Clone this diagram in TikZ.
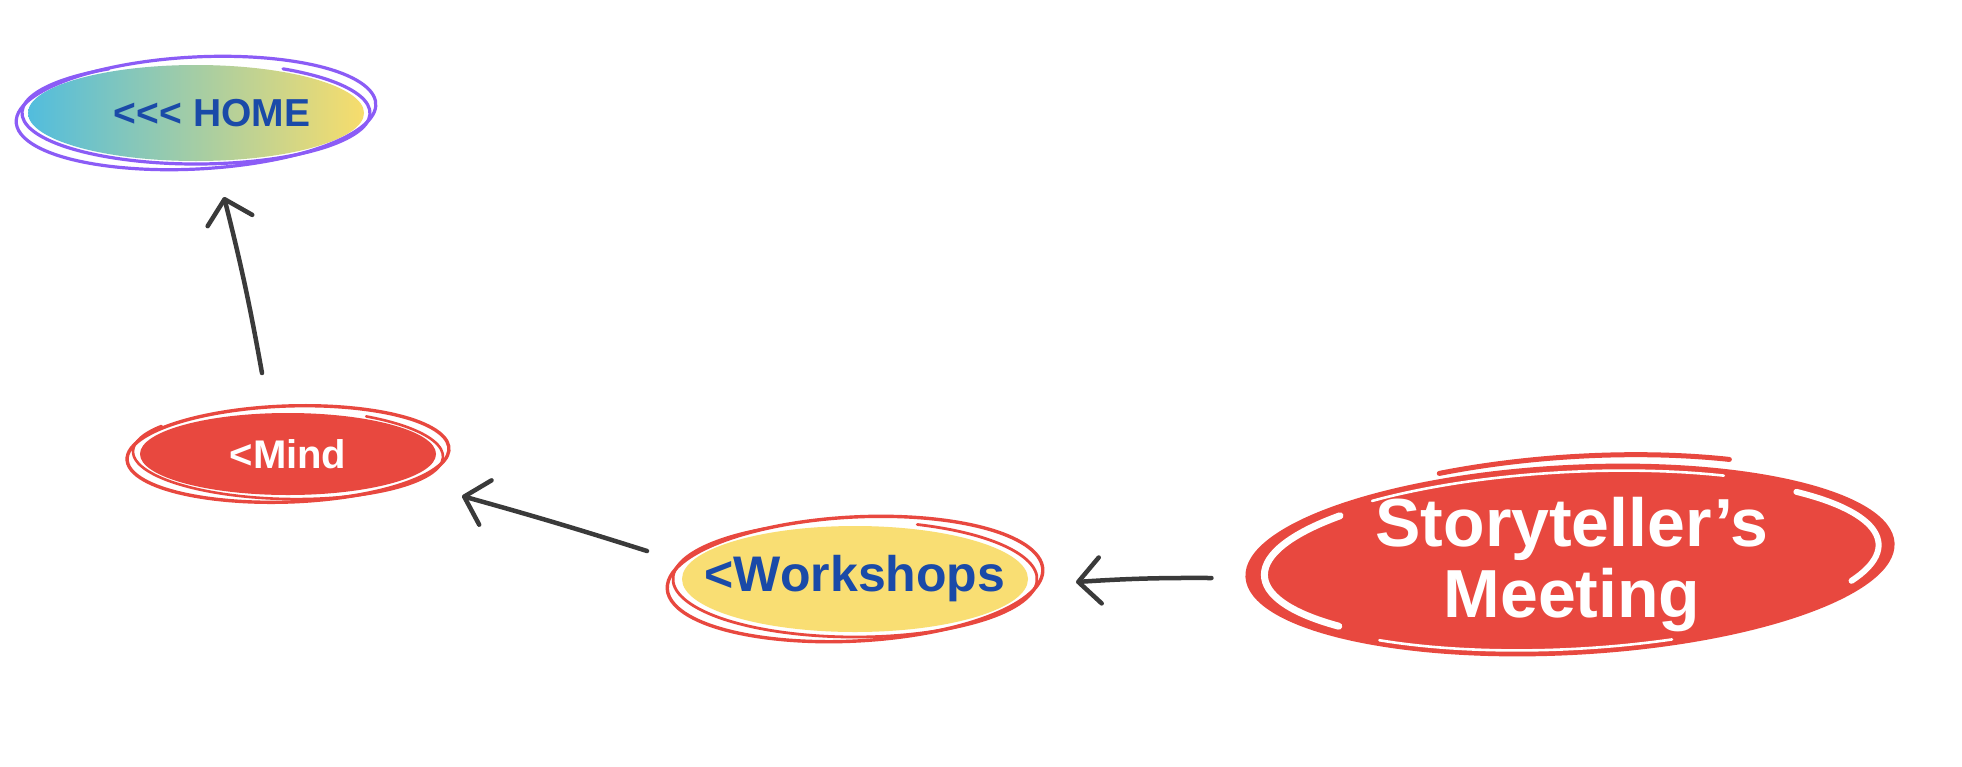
\documentclass[tikz,border=0pt]{standalone}
\usepackage{fontspec}
\newfontfamily\lsans{Liberation Sans}
\usetikzlibrary{arrows.meta,shapes.geometric,calc}
\definecolor{redA}{HTML}{E8483F}
\definecolor{purpA}{HTML}{8B5CF6}
\definecolor{blueT}{HTML}{1A4AA8}
\definecolor{yelA}{HTML}{F9DE73}
\definecolor{homeL}{HTML}{52BDDD}
\definecolor{homeR}{HTML}{F7DD6C}
\definecolor{arrC}{HTML}{3A3A3A}
\begin{document}
\begin{tikzpicture}[x=1pt,y=-1pt,
  oval/.style={ellipse, inner sep=0pt, outer sep=0pt, draw=none},
  homelbl/.style={font=\lsans\bfseries\fontsize{39}{41}\selectfont, text=blueT},
  mindlbl/.style={font=\lsans\bfseries\fontsize{40}{42}\selectfont, text=white},
  worklbl/.style={font=\lsans\bfseries\fontsize{50}{52}\selectfont, text=blueT},
  storylbl/.style={font=\lsans\bfseries\fontsize{68}{71}\selectfont, text=white, align=center},
  pstroke/.style={draw=purpA, line width=3.2pt, line cap=round},
  rstroke/.style={draw=redA, line width=3.4pt, line cap=round},
  wstroke/.style={draw=white, line cap=round},
  arr/.style={draw=arrC, line width=4.5pt, line cap=round,
    -{Straight Barb[length=22pt, width=46pt, round]}}
]
\fill[white] (0,0) rectangle (1962,766);
\useasboundingbox (0,0) rectangle (1962,766);

% ---- HOME ----
\node[oval, minimum width=336pt, minimum height=96pt, left color=homeL, right color=homeR,
  label={[homelbl, xshift=16pt]center:{<<< HOME}}] (home) at (196,113) {};
\draw[pstroke, shift={(home.center)}, rotate=3]
  (250:180 and 56) arc[start angle=250, end angle=630, x radius=180, y radius=56];
\draw[pstroke, shift={(home.center)}, rotate=0]
  (300:174 and 51) arc[start angle=300, end angle=600, x radius=174, y radius=51];

% ---- Mind ----
\node[oval, minimum width=296pt, minimum height=82pt, fill=redA,
  label={[mindlbl]center:{<Mind}}] (mind) at (288,454) {};
\draw[rstroke, shift={(mind.center)}, rotate=2]
  (250:161 and 48) arc[start angle=250, end angle=615, x radius=161, y radius=48];
\draw[rstroke, line width=2.6pt, shift={(mind.center)}, rotate=-1]
  (300:155 and 45) arc[start angle=300, end angle=575, x radius=155, y radius=45];

% ---- Workshops ----
\node[oval, minimum width=346pt, minimum height=106pt, fill=yelA,
  label={[worklbl]center:{<Workshops}}] (work) at (855,579) {};
\draw[rstroke, shift={(work.center)}, rotate=3]
  (255:188 and 62) arc[start angle=255, end angle=620, x radius=188, y radius=62];
\draw[rstroke, line width=2.8pt, shift={(work.center)}, rotate=0]
  (290:182 and 58) arc[start angle=290, end angle=600, x radius=182, y radius=58];

% ---- Storyteller's Meeting ----
\node[oval, minimum width=650pt, minimum height=190pt, fill=redA, rotate=3] (story) at (1570,560) {};
\draw[wstroke, line width=7pt, shift={(story.center)}, rotate=3]
  (140:306 and 84) arc[start angle=140, end angle=222, x radius=306, y radius=84];
\draw[wstroke, line width=6pt, shift={(story.center)}, rotate=3]
  (318:309 and 84) arc[start angle=318, end angle=385, x radius=309, y radius=84];
\draw[wstroke, line width=2.6pt, shift={(story.center)}, rotate=3]
  (232:316 and 88) arc[start angle=232, end angle=300, x radius=316, y radius=88];
\draw[wstroke, line width=2.6pt, shift={(story.center)}, rotate=3]
  (72:316 and 89) arc[start angle=72, end angle=128, x radius=316, y radius=89];
\draw[rstroke, line width=5pt, shift={(story.center)}, rotate=4]
  (248:332 and 103) arc[start angle=248, end angle=300, x radius=332, y radius=103];
\node[storylbl] (storytext) at ($(story.center)+(2,5)$) {Storyteller’s\\Meeting};

% ---- connectors ----
\draw[arr] ($(mind.north)+(-26,-40)$) to[bend right=2] ($(home.south)+(28,36)$);
\draw[arr] ($(work.west)+(-35,-28)$) to[bend right=1] ($(mind.east)+(26,42)$);
\draw[arr] ($(story.west)+(-34,1)$) to[bend right=2] ($(work.east)+(48,3)$);
\end{tikzpicture}
\end{document}
